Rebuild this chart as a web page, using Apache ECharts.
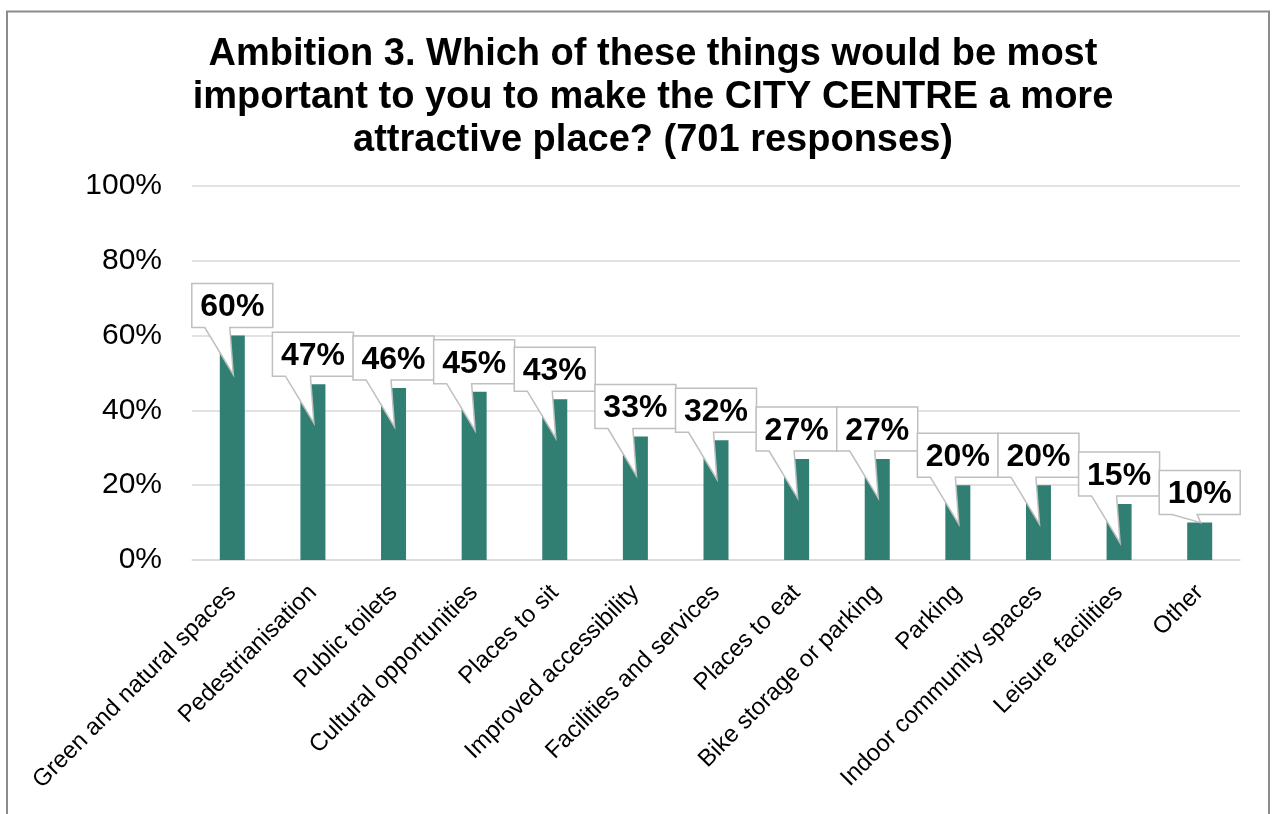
<!DOCTYPE html>
<html>
<head>
<meta charset="utf-8">
<script src="https://cdn.jsdelivr.net/npm/echarts@6/dist/echarts.min.js"></script>
<style>
  html, body { margin: 0; padding: 0; background: #fff; }
  #chart { width: 1274px; height: 814px; }
</style>
</head>
<body>
<div id="chart"></div>
<script>
// Survey answers, share of respondents (%)
const categories = [
  'Green and natural spaces', 'Pedestrianisation', 'Public toilets',
  'Cultural opportunities', 'Places to sit', 'Improved accessibility',
  'Facilities and services', 'Places to eat', 'Bike storage or parking',
  'Parking', 'Indoor community spaces', 'Leisure facilities', 'Other'
];
const shares = [60, 47, 46, 45, 43, 33, 32, 27, 27, 20, 20, 15, 10];
const yTicks = { min: 0, max: 100, step: 20 };
const titleText = 'Ambition 3. Which of these things would be most\nimportant to you to make the CITY CENTRE a more\nattractive place? (701 responses)';

const FONT = '"Liberation Sans", Arial, sans-serif';
const BAR_COLOR = '#317f73';

const chart = echarts.init(document.getElementById('chart'));

// Speech-bubble label sitting above-left of each bar, with its tail pointing into the bar
function renderCallout(params, api) {
  const idx = api.value(0);
  const val = api.value(1);
  const top = api.coord([idx, val]);
  const base = api.coord([idx, 0]);
  const cx = top[0];
  const w = 81, h = 44;
  const left = cx - 40.5, right = left + w;
  const bottom = top[1] - 8, boxTop = bottom - h;
  let tipY = top[1] + 39;
  if (tipY >= base[1] - 2) tipY = top[1];
  const path = [
    'M', left, boxTop, 'L', right, boxTop, 'L', right, bottom,
    'L', left + 38, bottom, 'L', cx + 1, tipY, 'L', left + 13, bottom,
    'L', left, bottom, 'Z'
  ].join(' ');
  return {
    type: 'group',
    children: [
      {
        type: 'path',
        shape: { pathData: path },
        style: { fill: '#ffffff', stroke: '#bfbfbf', lineWidth: 1.5 }
      },
      {
        type: 'text',
        style: {
          x: cx, y: boxTop + h / 2 + 2,
          text: Math.round(val) + '%',
          fill: '#000', font: 'bold 32px ' + FONT,
          align: 'center', verticalAlign: 'middle'
        }
      }
    ]
  };
}

chart.setOption({
  animation: false,
  backgroundColor: '#ffffff',
  title: {
    text: titleText,
    left: 648, top: 28,
    textAlign: 'center',
    textStyle: { fontFamily: FONT, fontWeight: 'bold', fontSize: 38, lineHeight: 43, color: '#000' }
  },
  graphic: [{
    type: 'rect',
    shape: { x: 7, y: 11.5, width: 1262, height: 830 },
    style: { fill: 'none', stroke: '#8c8c8c', lineWidth: 2 },
    silent: true
  }],
  grid: { left: 192, right: 34, top: 186, bottom: 254, containLabel: false },
  xAxis: {
    type: 'category',
    data: categories,
    axisTick: { show: false },
    axisLine: { lineStyle: { color: '#d9d9d9', width: 1.5 } },
    axisLabel: { rotate: 45, interval: 0, margin: 29, fontSize: 24, fontFamily: FONT, color: '#000' }
  },
  yAxis: {
    type: 'value',
    min: yTicks.min, max: yTicks.max, interval: yTicks.step,
    axisLine: { show: false },
    axisTick: { show: false },
    splitLine: { lineStyle: { color: '#d9d9d9', width: 1.5 } },
    axisLabel: { formatter: '{value}%', fontSize: 30, fontFamily: FONT, color: '#000', margin: 30 }
  },
  series: [
    {
      type: 'bar',
      data: shares,
      barWidth: 25,
      itemStyle: { color: BAR_COLOR },
      z: 2
    },
    {
      type: 'custom',
      data: shares.map((v, i) => [i, v]),
      encode: { x: 0, y: 1 },
      renderItem: renderCallout,
      z: 5
    }
  ]
});
</script>
</body>
</html>
